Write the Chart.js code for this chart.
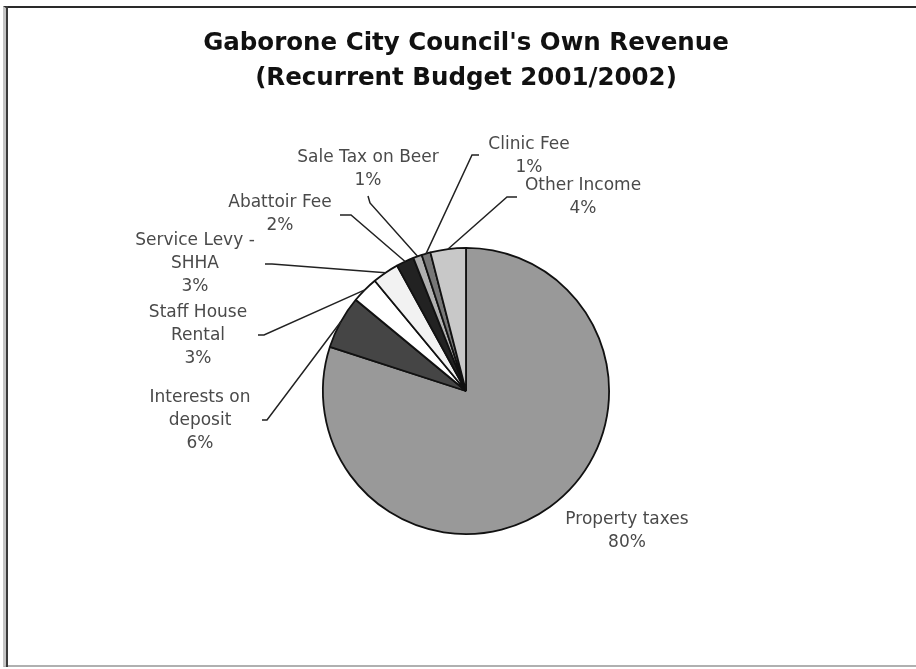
<!DOCTYPE html>
<html>
<head>
<meta charset="utf-8">
<script src="https://cdn.jsdelivr.net/npm/chart.js@4"></script>
<style>
  html, body { margin: 0; padding: 0; background: #fff; }
  #wrap { position: relative; width: 916px; height: 669px; overflow: hidden; }
  #frame { position: absolute; left: 3px; top: 6px; width: 913px; height: 661px;
           border-left: 3px solid #c4c4c4; border-top: 2px solid #2a2a2a; border-bottom: 2px solid #b0b0b0; box-sizing: border-box; }
  #frame2 { position: absolute; left: 6px; top: 6px; width: 2px; height: 661px; background: #3a3a3a; }
  canvas { position: absolute; left: 0; top: 0; }
</style>
</head>
<body>
<div id="wrap">
  <div id="frame"></div>
  <div id="frame2"></div>
  <canvas id="c" width="916" height="669"></canvas>
</div>
<script>
// ---- data ----
const categories = ["Property taxes", "Interests on deposit", "Staff House Rental", "Service Levy - SHHA",
                    "Abattoir Fee", "Sale Tax on Beer", "Clinic Fee", "Other Income"];
const values = [80, 6, 3, 3, 2, 1, 1, 4];
const labelLines = [
  ["Property taxes"],
  ["Interests on", "deposit"],
  ["Staff House", "Rental"],
  ["Service Levy -", "SHHA"],
  ["Abattoir Fee"],
  ["Sale Tax on Beer"],
  ["Clinic Fee"],
  ["Other Income"]
];
const titleLines = ["Gaborone City Council's Own Revenue", "(Recurrent Budget 2001/2002)"];

// ---- styles / layout ----
const colors = ["#999999", "#454545", "#ffffff", "#f2f2f2", "#222222", "#b0b0b0", "#777777", "#c8c8c8"];
const titleLayout = { x: 466, y: 44, lineGap: 35 };
// label block centre (first line) relative to pie centre, and leader start (x,y) relative to pie centre
const labelLayout = [
  { dx: 161, dy: 129, lead: null },
  { dx: -266, dy: 7,  lead: [[-204, 29], [-199, 29]] },
  { dx: -268, dy: -78, lead: [[-208, -56], [-202, -56]] },
  { dx: -271, dy: -150, lead: [[-201, -127], [-194, -127]] },
  { dx: -186, dy: -188, lead: [[-126, -176], [-115, -176]] },
  { dx: -98,  dy: -233, lead: [[-98, -195], [-96, -188]] },
  { dx: 63,   dy: -246, lead: [[13, -236], [6, -236]] },
  { dx: 117,  dy: -205, lead: [[51, -194], [41, -194]] }
];

const labelPlugin = {
  id: 'pieLabels',
  afterDatasetsDraw(chart) {
    const ctx = chart.ctx;
    const meta = chart.getDatasetMeta(0);
    const total = values.reduce((a, b) => a + b, 0);
    ctx.save();
    // title
    ctx.fillStyle = "#111";
    ctx.font = "bold 24.5px 'DejaVu Sans'";
    ctx.textAlign = "center";
    ctx.textBaseline = "middle";
    titleLines.forEach((t, k) => ctx.fillText(t, titleLayout.x, titleLayout.y + k * titleLayout.lineGap));
    meta.data.forEach((arc, i) => {
      const cx = arc.x, cy = arc.y, r = arc.outerRadius;
      const mid = (arc.startAngle + arc.endAngle) / 2;
      const L = labelLayout[i];
      if (L.lead) {
        ctx.strokeStyle = "#222";
        ctx.lineWidth = 1.5;
        ctx.beginPath();
        ctx.moveTo(cx + L.lead[0][0], cy + L.lead[0][1]);
        ctx.lineTo(cx + L.lead[1][0], cy + L.lead[1][1]);
        ctx.lineTo(cx + Math.cos(mid) * r, cy + Math.sin(mid) * r);
        ctx.stroke();
      }
      const lines = labelLines[i].concat([Math.round(values[i] / total * 100) + "%"]);
      ctx.fillStyle = "#4a4a4a";
      ctx.font = "17px 'DejaVu Sans'";
      ctx.textAlign = "center";
      ctx.textBaseline = "middle";
      lines.forEach((t, k) => ctx.fillText(t, cx + L.dx, cy + L.dy + k * 23));
    });
    ctx.restore();
  }
};

new Chart(document.getElementById('c'), {
  type: 'pie',
  data: {
    labels: categories,
    datasets: [{
      data: values,
      backgroundColor: colors,
      borderColor: "#111111",
      borderWidth: 1.8,
      hoverOffset: 0
    }]
  },
  options: {
    responsive: false,
    animation: false,
    layout: { padding: { left: 322, right: 306, top: 247, bottom: 134 } },
    plugins: {
      legend: { display: false },
      tooltip: { enabled: false },
      title: { display: false }
    }
  },
  plugins: [labelPlugin]
});
</script>
</body>
</html>
